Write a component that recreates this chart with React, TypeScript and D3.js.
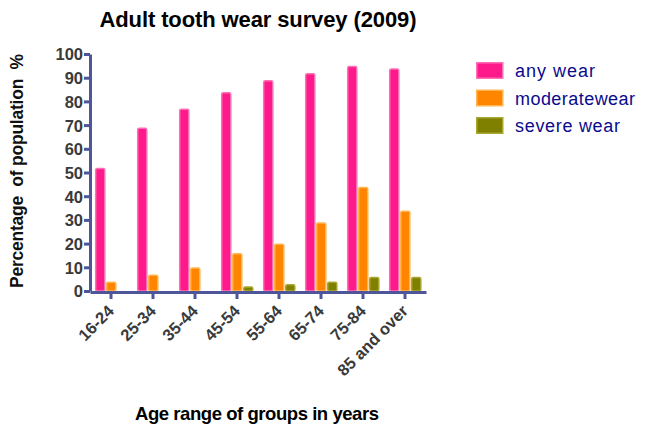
import { useEffect, useRef } from 'react';
import * as d3 from 'd3';

const ageGroups = ['16-24', '25-34', '35-44', '45-54', '55-64', '65-74', '75-84', '85 and over'];
const seriesNames = ['any wear', 'moderatewear', 'severe wear'];
const anyWear = [52, 69, 77, 84, 89, 92, 95, 94];
const moderateWear = [4, 7, 10, 16, 20, 29, 44, 34];
const severeWear = [0, 0, 0, 2, 3, 4, 6, 6];
const yTicks = [0, 10, 20, 30, 40, 50, 60, 70, 80, 90, 100];

const fills = ['#ff1a8c', '#ff8400', '#808000'];
const edges = ['#ff6fb5', '#ffb650', '#a8a830'];

const App = () => {
  const svgRef = useRef<SVGSVGElement>(null);

  useEffect(() => {
    if (!svgRef.current) return;
    const svg = d3.select(svgRef.current);
    svg.selectAll('*').remove();

    const width = 645;
    const height = 432;
    const left = 90;
    const right = 426;
    const top = 54;
    const bottom = 291;
    const axisColor = '#4f5599';
    const font = 'Liberation Sans, Arial, sans-serif';

    svg.append('rect').attr('width', width).attr('height', height).attr('fill', '#fff');

    const x = d3.scaleBand<string>().domain(ageGroups).range([left, right]).padding(0);
    const xInner = d3.scaleBand<string>()
      .domain(seriesNames)
      .range([4.5, x.bandwidth() - 4])
      .padding(0.04);
    const y = d3.scaleLinear().domain([0, 100]).range([bottom, top]);

    const values = [anyWear, moderateWear, severeWear];
    const rows = ageGroups.flatMap((g, i) =>
      seriesNames.map((s, k) => ({ group: g, series: s, k, value: values[k][i] }))
    ).filter(d => d.value > 0);

    // Bars
    svg.append('g')
      .selectAll('rect')
      .data(rows)
      .enter()
      .append('rect')
      .attr('x', d => (x(d.group) || 0) + (xInner(d.series) || 0) + 0.75)
      .attr('y', d => y(d.value) + 0.75)
      .attr('width', xInner.bandwidth() - 1.5)
      .attr('height', d => Math.max(0, bottom - y(d.value) - 0.75))
      .attr('fill', d => fills[d.k])
      .attr('stroke', d => edges[d.k])
      .attr('stroke-width', 1.5)
      .attr('rx', 1.5);

    // Y axis
    const yAxis = svg.append('g')
      .attr('transform', `translate(${left},0)`)
      .call(d3.axisLeft(y).tickValues(yTicks).tickSize(6).tickSizeOuter(0).tickPadding(1));
    yAxis.select('.domain').attr('stroke', axisColor).attr('stroke-width', 3);
    yAxis.selectAll('.tick line').attr('stroke', axisColor).attr('stroke-width', 3);
    yAxis.selectAll('.tick text')
      .attr('fill', '#3a3a3a')
      .attr('font-family', font)
      .attr('font-weight', 'bold')
      .attr('font-size', 16.5)
      .attr('dy', '0.36em');

    // X axis
    const xAxis = svg.append('g')
      .attr('transform', `translate(0,${bottom + 1})`)
      .call(d3.axisBottom(x).tickSize(7).tickSizeOuter(0).tickPadding(3));
    xAxis.select('.domain').attr('stroke', axisColor).attr('stroke-width', 3);
    xAxis.selectAll('.tick line').attr('stroke', axisColor).attr('stroke-width', 3);
    xAxis.selectAll('.tick text')
      .attr('fill', '#3a3a3a')
      .attr('font-family', font)
      .attr('font-weight', 'bold')
      .attr('font-size', 16.5)
      .attr('text-anchor', 'end')
      .attr('dy', 0)
      .attr('transform', 'translate(-3,13) rotate(-45)');

    // Title and axis labels
    svg.append('text')
      .attr('x', 258)
      .attr('y', 27)
      .attr('text-anchor', 'middle')
      .attr('font-family', font)
      .attr('font-weight', 'bold')
      .attr('font-size', 22)
      .attr('textLength', 317)
      .attr('lengthAdjust', 'spacing')
      .text('Adult tooth wear survey (2009)');

    svg.append('text')
      .attr('transform', 'translate(23,171) rotate(-90)')
      .attr('text-anchor', 'middle')
      .attr('font-family', font)
      .attr('font-weight', 'bold')
      .attr('font-size', 17.5)
      .attr('fill', '#111')
      .attr('textLength', 234)
      .attr('lengthAdjust', 'spacing')
      .attr('xml:space', 'preserve')
      .text('Percentage  of population  %');

    svg.append('text')
      .attr('x', 257)
      .attr('y', 420)
      .attr('text-anchor', 'middle')
      .attr('font-family', font)
      .attr('font-weight', 'bold')
      .attr('font-size', 18.5)
      .attr('textLength', 244)
      .attr('lengthAdjust', 'spacing')
      .text('Age range of groups in years');

    // Legend
    const legend = svg.append('g').attr('transform', 'translate(476,62)');
    seriesNames.forEach((name, k) => {
      const row = legend.append('g').attr('transform', `translate(0,${k * 27.5})`);
      row.append('rect')
        .attr('x', 0.75)
        .attr('y', 0.75)
        .attr('width', 26)
        .attr('height', 15.5)
        .attr('fill', fills[k])
        .attr('stroke', edges[k])
        .attr('stroke-width', 1.5);
      row.append('text')
        .attr('x', 39)
        .attr('y', 15)
        .attr('font-family', font)
        .attr('font-size', 18)
        .attr('fill', '#0a0a8c')
        .attr('textLength', name === 'moderatewear' ? 120 : name === 'any wear' ? 80 : 105)
        .attr('lengthAdjust', 'spacing')
        .text(name);
    });
  }, []);

  return (
    <svg
      ref={svgRef}
      width={645}
      height={432}
      style={{ position: 'absolute', left: 0, top: 0 }}
    />
  );
};

export default App;
